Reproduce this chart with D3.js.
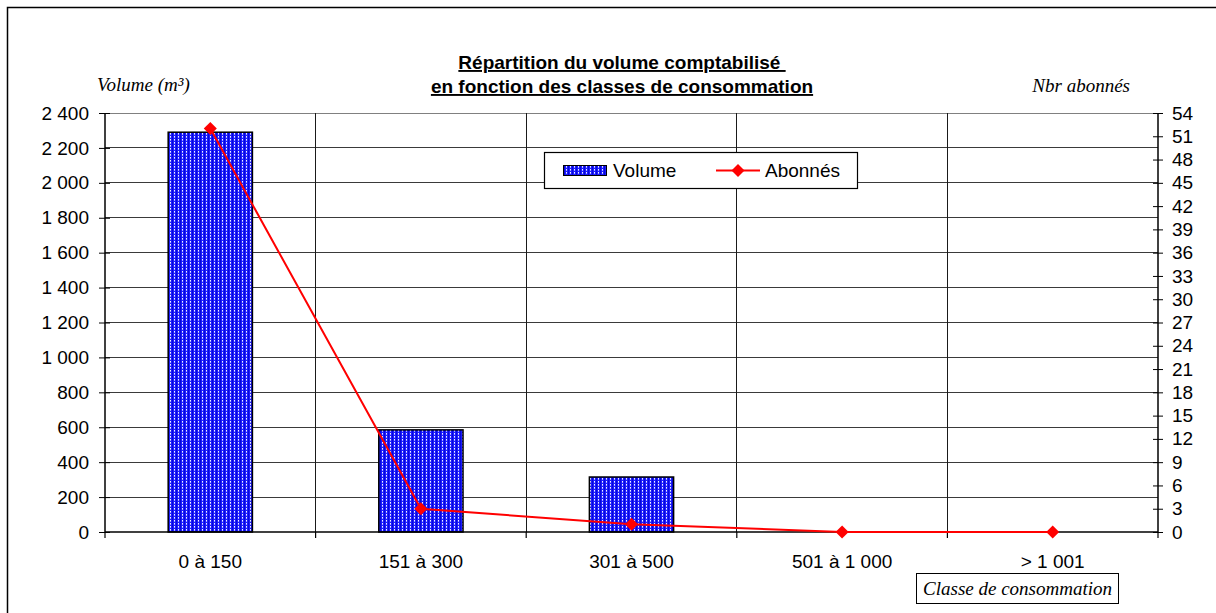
<!DOCTYPE html>
<html>
<head>
<meta charset="utf-8">
<script src="https://cdn.jsdelivr.net/npm/d3@7"></script>
<style>
  html, body { margin: 0; padding: 0; background: #fff; }
  svg { display: block; }
  text { font-family: "Liberation Sans", Arial, sans-serif; fill: #000; }
  .it { font-family: "Liberation Serif", "Times New Roman", serif; font-style: italic; }
</style>
</head>
<body>
<svg id="chart" width="1216" height="613"></svg>
<script>
// ---- data ----
const categories = ["0 à 150", "151 à 300", "301 à 500", "501 à 1 000", "> 1 001"];
const volume = [2290, 585, 315, 0, 0];
const abonnes = [52, 3, 1, 0, 0];
const leftTicks = [0, 200, 400, 600, 800, 1000, 1200, 1400, 1600, 1800, 2000, 2200, 2400];
const rightTicks = [0, 3, 6, 9, 12, 15, 18, 21, 24, 27, 30, 33, 36, 39, 42, 45, 48, 51, 54];
const titleLines = ["Répartition du volume comptabilisé ", "en fonction des classes de consommation"];
const leftAxisTitle = "Volume (m³)";
const rightAxisTitle = "Nbr abonnés";
const xAxisTitle = "Classe de consommation";
const seriesNames = ["Volume", "Abonnés"];

// ---- layout ----
const svg = d3.select("#chart");
const L = 105, R = 1158, T = 113, B = 532;
const FS = "19px";

const x = d3.scaleBand().domain(categories).range([L, R]).padding(0);
const yL = d3.scaleLinear().domain([0, 2400]).range([B, T]);
const yR = d3.scaleLinear().domain([0, 54]).range([B, T]);
const fmt = v => d3.format(",")(v).replace(/,/g, " ");

// pattern for bars
const defs = svg.append("defs");
const pat = defs.append("pattern").attr("id", "dots")
  .attr("patternUnits", "userSpaceOnUse").attr("width", 4).attr("height", 3);
pat.append("rect").attr("width", 4).attr("height", 3).attr("fill", "#1c1cff");
pat.append("rect").attr("x", 0).attr("y", 0).attr("width", 1).attr("height", 3).attr("fill", "#0808d8");
pat.append("rect").attr("x", 2).attr("y", 1).attr("width", 1).attr("height", 1).attr("fill", "#f0f0ff");
pat.append("rect").attr("x", 2).attr("y", 2).attr("width", 1).attr("height", 1).attr("fill", "#a8a8ff");

// outer frame
svg.append("rect").attr("x", 7.5).attr("y", 7.5).attr("width", 1240).attr("height", 640)
  .attr("fill", "none").attr("stroke", "#000").attr("stroke-width", 1.5);

// gridlines
const grid = svg.append("g").attr("shape-rendering", "crispEdges");
grid.selectAll("line.h").data(leftTicks.filter(d => d > 0)).join("line")
  .attr("x1", L).attr("x2", R).attr("y1", d => yL(d)).attr("y2", d => yL(d))
  .attr("stroke", d => d === 2400 ? "#808080" : "#3a3a3a").attr("stroke-width", 1);
grid.selectAll("line.v").data(categories.slice(1)).join("line")
  .attr("x1", d => x(d)).attr("x2", d => x(d)).attr("y1", T).attr("y2", B)
  .attr("stroke", "#1a1a1a").attr("stroke-width", 1);

// bars
const bw = x.bandwidth() * 0.4;
svg.append("g").selectAll("rect").data(categories.map((c, i) => ({c, v: volume[i]})).filter(d => d.v > 0)).join("rect")
  .attr("x", d => x(d.c) + x.bandwidth() / 2 - bw / 2)
  .attr("y", d => yL(d.v))
  .attr("width", bw)
  .attr("height", d => B - yL(d.v))
  .attr("fill", "url(#dots)")
  .attr("stroke", "#000").attr("stroke-width", 1.5);

// left axis
const gL = svg.append("g").attr("transform", `translate(${L},0)`)
  .call(d3.axisLeft(yL).tickValues(leftTicks).tickFormat(fmt).tickSize(6).tickPadding(10));
gL.select(".domain").attr("stroke", "#000").attr("stroke-width", 1.5).attr("d", `M0,${T}V${B}`);
gL.selectAll(".tick line").attr("x1", 5).attr("stroke", "#000");
gL.selectAll(".tick text").style("font-size", FS).attr("font-family", null);

// right axis
const gR = svg.append("g").attr("transform", `translate(${R},0)`)
  .call(d3.axisRight(yR).tickValues(rightTicks).tickSize(5).tickPadding(9));
gR.select(".domain").attr("stroke", "#000").attr("stroke-width", 1.5).attr("d", `M0,${T}V${B}`);
gR.selectAll(".tick line").attr("x1", -5).attr("stroke", "#000");
gR.selectAll(".tick text").style("font-size", FS).attr("font-family", null);

// bottom axis
const gB = svg.append("g").attr("transform", `translate(0,${B})`)
  .call(d3.axisBottom(x).tickSize(0).tickPadding(23));
gB.select(".domain").attr("stroke", "#000").attr("stroke-width", 1.5).attr("d", `M${L},0H${R}`);
gB.selectAll(".tick text").style("font-size", FS).attr("font-family", null);
gB.selectAll("line.sep").data(categories.map(c => x(c)).concat([R])).join("line")
  .attr("class", "sep").attr("x1", d => d).attr("x2", d => d).attr("y1", 0).attr("y2", 6)
  .attr("stroke", "#000").attr("stroke-width", 1.2);

// line series
const pts = categories.map((c, i) => [x(c) + x.bandwidth() / 2, yR(abonnes[i])]);
svg.append("path").attr("d", d3.line()(pts)).attr("fill", "none")
  .attr("stroke", "#ff0000").attr("stroke-width", 2);
const marker = d3.symbol().type(d3.symbolSquare).size(85)();
svg.append("g").selectAll("path").data(pts).join("path")
  .attr("d", marker)
  .attr("transform", d => `translate(${d[0]},${d[1]}) rotate(45)`)
  .attr("fill", "#ff0000");

// title
const title = svg.append("text").attr("x", 622).attr("text-anchor", "middle")
  .style("font-size", "19px").style("font-weight", "bold").style("text-decoration", "underline")
  .style("white-space", "pre");
titleLines.forEach((t, i) => title.append("tspan").attr("x", 622).attr("y", 69 + i * 24).text(t));

// axis titles
svg.append("text").attr("class", "it").attr("x", 97).attr("y", 91).style("font-size", "19px").text(leftAxisTitle);
svg.append("text").attr("class", "it").attr("x", 1130).attr("y", 92).attr("text-anchor", "end").style("font-size", "19px").text(rightAxisTitle);

// x axis title box
svg.append("rect").attr("x", 916.5).attr("y", 573.5).attr("width", 202).attr("height", 30)
  .attr("fill", "#fff").attr("stroke", "#000").attr("stroke-width", 1);
svg.append("text").attr("class", "it").attr("x", 1017.5).attr("y", 595).attr("text-anchor", "middle")
  .style("font-size", "19px").text(xAxisTitle);

// legend
const lg = svg.append("g");
lg.append("rect").attr("x", 544.5).attr("y", 152.5).attr("width", 313).attr("height", 36)
  .attr("fill", "#fff").attr("stroke", "#000").attr("stroke-width", 1.2);
lg.append("rect").attr("x", 563.5).attr("y", 165.5).attr("width", 43).attr("height", 10)
  .attr("fill", "url(#dots)").attr("stroke", "#000").attr("stroke-width", 1);
lg.append("text").attr("x", 613).attr("y", 177).style("font-size", FS).text(seriesNames[0]);
lg.append("line").attr("x1", 716).attr("x2", 760).attr("y1", 170.5).attr("y2", 170.5)
  .attr("stroke", "#ff0000").attr("stroke-width", 2);
lg.append("path").attr("d", marker)
  .attr("transform", "translate(738,170.5) rotate(45)").attr("fill", "#ff0000");
lg.append("text").attr("x", 765).attr("y", 177).style("font-size", FS).text(seriesNames[1]);
</script>
</body>
</html>
